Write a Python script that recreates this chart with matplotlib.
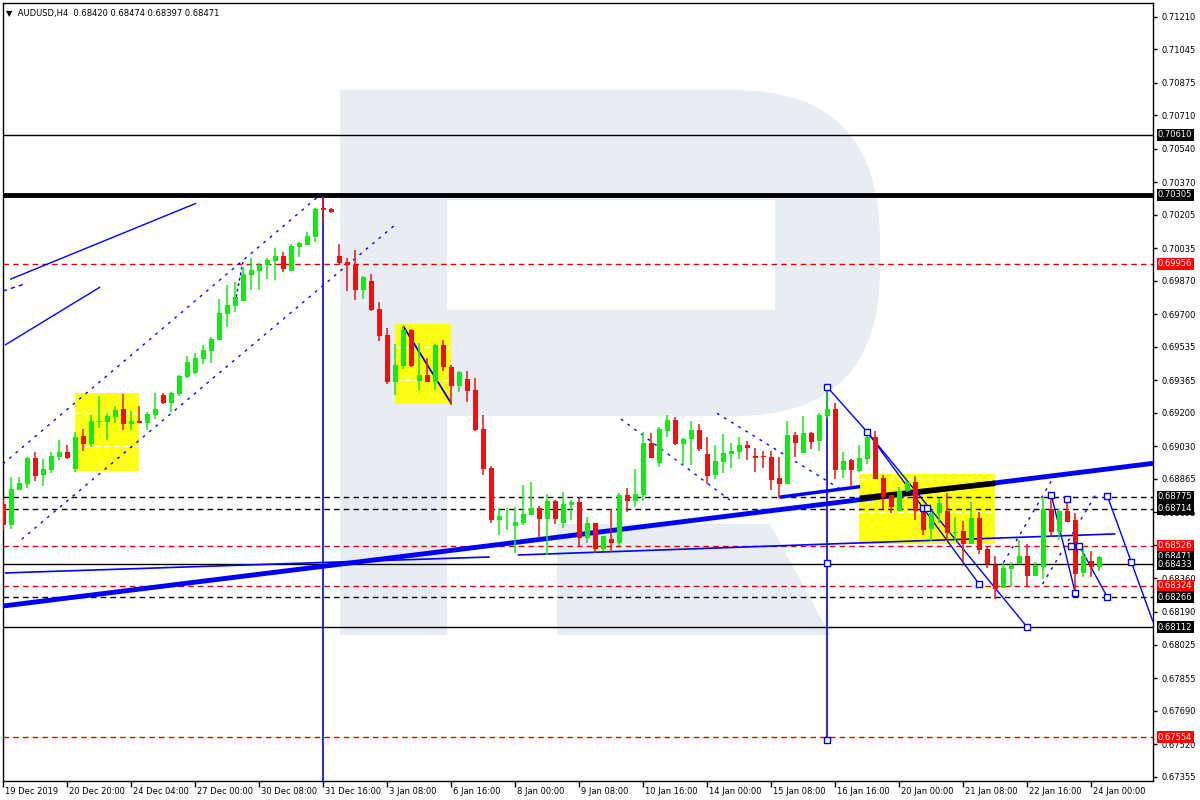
import matplotlib
matplotlib.use("Agg")
import matplotlib.pyplot as plt
import matplotlib.transforms as mtransforms
from matplotlib.patches import Rectangle, Polygon, PathPatch
from matplotlib.path import Path

# ---------------- data (AUDUSD H4 candles) ----------------
opens = [0.68738, 0.68633, 0.68810, 0.68841, 0.68971, 0.68884, 0.68912, 0.68978, 0.69002, 0.68915,
         0.69083, 0.69044, 0.69154, 0.69156, 0.69181, 0.69218, 0.69144, 0.69159, 0.69150, 0.69190,
         0.69289, 0.69252, 0.69296, 0.69384, 0.69404, 0.69474, 0.69514, 0.69571, 0.69703, 0.69744,
         0.69769, 0.69900, 0.69920, 0.69952, 0.69971, 0.69996, 0.69920, 0.70042, 0.70052, 0.70092,
         0.70237, 0.70234, 0.69996, 0.69965, 0.69952, 0.69825, 0.69869, 0.69727, 0.69595, 0.69358,
         0.69439, 0.69621, 0.69363, 0.69392, 0.69358, 0.69544, 0.69433, 0.69338, 0.69372, 0.69316,
         0.69118, 0.68920, 0.68658, 0.68675, 0.68626, 0.68642, 0.68682, 0.68717, 0.68663, 0.68753,
         0.68643, 0.68733, 0.68748, 0.68567, 0.68642, 0.68511, 0.68560, 0.68542, 0.68783, 0.68754,
         0.68785, 0.69047, 0.68947, 0.69110, 0.69164, 0.69044, 0.69065, 0.69114, 0.68991, 0.68886,
         0.68953, 0.68993, 0.69003, 0.69037, 0.68981, 0.68978, 0.68976, 0.68870, 0.68841, 0.69088,
         0.68998, 0.69098, 0.69059, 0.69186, 0.69218, 0.68912, 0.68960, 0.68907, 0.68968, 0.69080,
         0.68871, 0.68783, 0.68704, 0.68805, 0.68849, 0.68704, 0.68612, 0.68694, 0.68704, 0.68591,
         0.68602, 0.68537, 0.68669, 0.68509, 0.68430, 0.68314, 0.68410, 0.68435, 0.68476, 0.68375,
         0.68420, 0.68714, 0.68597, 0.68704, 0.68658, 0.68390, 0.68447, 0.68420]
highs = [0.68762, 0.68876, 0.68876, 0.68978, 0.69002, 0.68966, 0.69002, 0.69063, 0.69039, 0.69105,
         0.69118, 0.69190, 0.69283, 0.69198, 0.69235, 0.69296, 0.69210, 0.69235, 0.69206, 0.69299,
         0.69299, 0.69307, 0.69392, 0.69490, 0.69504, 0.69544, 0.69585, 0.69778, 0.69849, 0.69864,
         0.69940, 0.69986, 0.69961, 0.69986, 0.70037, 0.70016, 0.70057, 0.70067, 0.70118, 0.70239,
         0.70295, 0.70239, 0.70057, 0.69986, 0.70026, 0.69894, 0.69905, 0.69763, 0.69631, 0.69549,
         0.69641, 0.69626, 0.69554, 0.69478, 0.69549, 0.69570, 0.69443, 0.69412, 0.69412, 0.69377,
         0.69190, 0.68930, 0.68717, 0.68717, 0.68723, 0.68834, 0.68850, 0.68728, 0.68788, 0.68760,
         0.68799, 0.68758, 0.68773, 0.68672, 0.68642, 0.68576, 0.68712, 0.68793, 0.68819, 0.68915,
         0.69103, 0.69098, 0.69128, 0.69190, 0.69179, 0.69073, 0.69159, 0.69144, 0.69078, 0.69037,
         0.69093, 0.69047, 0.69078, 0.69057, 0.69022, 0.69007, 0.69007, 0.68976, 0.69159, 0.69103,
         0.69184, 0.69103, 0.69200, 0.69331, 0.69252, 0.69002, 0.68965, 0.69036, 0.69112, 0.69106,
         0.68885, 0.68783, 0.68826, 0.68856, 0.68880, 0.68704, 0.68704, 0.68770, 0.68795, 0.68673,
         0.68652, 0.68750, 0.68699, 0.68526, 0.68476, 0.68440, 0.68445, 0.68557, 0.68537, 0.68445,
         0.68775, 0.68785, 0.68714, 0.68772, 0.68690, 0.68526, 0.68501, 0.68474]
lows = [0.68602, 0.68613, 0.68810, 0.68820, 0.68856, 0.68831, 0.68896, 0.68961, 0.68967, 0.68901,
        0.69008, 0.69029, 0.69125, 0.69063, 0.69150, 0.69114, 0.69114, 0.69150, 0.69114, 0.69170,
        0.69247, 0.69204, 0.69286, 0.69379, 0.69399, 0.69450, 0.69453, 0.69571, 0.69637, 0.69713,
        0.69769, 0.69825, 0.69825, 0.69879, 0.69874, 0.69915, 0.69920, 0.69991, 0.70052, 0.70067,
        0.70168, 0.70214, 0.69950, 0.69820, 0.69774, 0.69779, 0.69718, 0.69566, 0.69348, 0.69292,
        0.69424, 0.69434, 0.69317, 0.69358, 0.69317, 0.69414, 0.69242, 0.69307, 0.69257, 0.69110,
        0.68886, 0.68643, 0.68582, 0.68607, 0.68491, 0.68633, 0.68682, 0.68567, 0.68481, 0.68638,
        0.68618, 0.68657, 0.68526, 0.68541, 0.68491, 0.68501, 0.68496, 0.68526, 0.68697, 0.68724,
        0.68754, 0.68972, 0.68927, 0.69079, 0.69039, 0.68937, 0.68937, 0.69008, 0.68841, 0.68866,
        0.68897, 0.68922, 0.68967, 0.68962, 0.68902, 0.68922, 0.68810, 0.68770, 0.68841, 0.68978,
        0.68998, 0.69018, 0.69008, 0.69174, 0.68866, 0.68871, 0.68826, 0.68902, 0.68942, 0.68866,
        0.68714, 0.68694, 0.68704, 0.68800, 0.68658, 0.68582, 0.68552, 0.68643, 0.68552, 0.68552,
        0.68440, 0.68537, 0.68486, 0.68415, 0.68258, 0.68314, 0.68319, 0.68435, 0.68324, 0.68370,
        0.68359, 0.68572, 0.68557, 0.68648, 0.68273, 0.68369, 0.68369, 0.68397]
closes = [0.68633, 0.68814, 0.68844, 0.68972, 0.68881, 0.68915, 0.68981, 0.69002, 0.68972, 0.69078,
          0.69044, 0.69159, 0.69159, 0.69185, 0.69215, 0.69146, 0.69159, 0.69150, 0.69193, 0.69220,
          0.69252, 0.69299, 0.69387, 0.69458, 0.69479, 0.69519, 0.69575, 0.69707, 0.69747, 0.69788,
          0.69905, 0.69925, 0.69950, 0.69976, 0.69996, 0.69930, 0.70047, 0.70062, 0.70097, 0.70234,
          0.70229, 0.70219, 0.69962, 0.69952, 0.69825, 0.69889, 0.69723, 0.69592, 0.69358, 0.69443,
          0.69621, 0.69439, 0.69392, 0.69358, 0.69544, 0.69434, 0.69338, 0.69407, 0.69312, 0.69115,
          0.68915, 0.68658, 0.68677, 0.68677, 0.68647, 0.68687, 0.68717, 0.68663, 0.68753, 0.68663,
          0.68738, 0.68748, 0.68567, 0.68642, 0.68511, 0.68576, 0.68540, 0.68783, 0.68754, 0.68788,
          0.69047, 0.68972, 0.69118, 0.69164, 0.69044, 0.69068, 0.69114, 0.69018, 0.68881, 0.68956,
          0.68997, 0.69007, 0.69037, 0.69023, 0.68972, 0.68975, 0.68861, 0.68841, 0.69088, 0.69049,
          0.69098, 0.69054, 0.69190, 0.69218, 0.68912, 0.68955, 0.68912, 0.68970, 0.69080, 0.68866,
          0.68772, 0.68724, 0.68805, 0.68851, 0.68704, 0.68607, 0.68694, 0.68741, 0.68593, 0.68597,
          0.68537, 0.68669, 0.68506, 0.68435, 0.68309, 0.68414, 0.68430, 0.68476, 0.68375, 0.68430,
          0.68714, 0.68597, 0.68704, 0.68648, 0.68385, 0.68476, 0.68420, 0.68471]

x_tick_bars = [0, 8, 16, 24, 32, 40, 48, 56, 64, 72, 80, 88, 96, 104, 112, 120, 128, 136]
x_tick_labels = ["19 Dec 2019", "20 Dec 20:00", "24 Dec 04:00", "27 Dec 00:00", "30 Dec 08:00",
                 "31 Dec 16:00", "3 Jan 08:00", "6 Jan 16:00", "8 Jan 00:00", "9 Jan 08:00",
                 "10 Jan 16:00", "14 Jan 00:00", "15 Jan 08:00", "16 Jan 16:00", "20 Jan 00:00",
                 "21 Jan 08:00", "22 Jan 16:00", "24 Jan 00:00"]

y_ticks = [0.71210, 0.71045, 0.70875, 0.70710, 0.70540, 0.70370, 0.70205, 0.70035, 0.69870,
           0.69700, 0.69535, 0.69365, 0.69200, 0.69030, 0.68865, 0.68695, 0.68530, 0.68360,
           0.68190, 0.68025, 0.67855, 0.67690, 0.67520, 0.67355]
hidden_ticks = [0.68530]   # covered by a price tag in the reference

# horizontal levels: price, colour, style, width
levels = [(0.70610, "black", "-", 1.0), (0.70305, "black", "-", 3.5), (0.69956, "#e00000", (0, (4, 3)), 1.0),
          (0.68775, "black", (0, (4, 3)), 1.0), (0.68714, "black", (0, (4, 3)), 1.0),
          (0.68526, "#e00000", (0, (4, 3)), 1.0), (0.68433, "black", "-", 1.0),
          (0.68324, "#e00000", (0, (4, 3)), 1.0), (0.68266, "black", (0, (4, 3)), 1.0),
          (0.68112, "black", "-", 1.0), (0.67554, "#e00000", (0, (4, 3)), 1.0)]

# price labels on the scale: price, background
price_tags = [(0.70610, "black"), (0.70305, "black"), (0.69956, "#ff0000"), (0.68775, "black"),
              (0.68714, "black"), (0.68526, "#ff0000"), (0.68471, "black"), (0.68433, "black"),
              (0.68324, "#ff0000"), (0.68266, "black"), (0.68112, "black"), (0.67554, "#ff0000")]

# yellow analysis zones: bar from, bar to, price low, price high, inner dashed levels
zones = [(8.96, 16.96, 0.68905, 0.69301, (0.69199, 0.69032)),
         (48.96, 55.96, 0.69245, 0.69651, (0.69534, 0.69365)),
         (106.96, 123.96, 0.68535, 0.68890, (0.68863, 0.68696))]

# trend lines: list of (bar, price) points
thick_trend = [(-0.1, 0.68220), (143.7, 0.68944)]
thin_support_1 = [(0.2, 0.68388), (60.8, 0.68469)]
thin_support_2 = [(64.3, 0.68479), (139.0, 0.68586)]
short_support = [(97.0, 0.68772), (107.1, 0.68826)]
black_trend = [(107.1, 0.68767), (124.0, 0.68843)]
left_line_a = [(0.84, 0.69877), (24.1, 0.70263)]
left_line_b = [(0.21, 0.69544), (12.1, 0.69838)]
left_dash = [(-0.05, 0.69818), (2.7, 0.69854)]
channel_up = [(-0.05, 0.68941), (39.3, 0.70295)]
channel_dn = [(2.3, 0.68559), (48.96, 0.70153)]
steep_dot = [(29.1, 0.69788), (29.96, 0.69965)]
zone2_diag = [(49.96, 0.69641), (55.96, 0.69250)]
dot_desc_1 = [(77.2, 0.69169), (90.8, 0.68758)]
dot_desc_2 = [(89.2, 0.69198), (105.2, 0.68799)]
zig_1 = [(103, 0.69330), (108, 0.69102), (121.96, 0.68332)]
zig_2 = [(108, 0.69102), (128, 0.68112)]
zig_3 = [(131, 0.68782), (134, 0.68285)]
zig_4 = [(134.5, 0.68525), (138, 0.68265)]
zig_5 = [(138, 0.68778), (141, 0.68442), (143.7, 0.68140)]
fc_dot_1 = [(125, 0.68440), (131.75, 0.68907)]
fc_dot_2 = [(129.9, 0.68332), (136.75, 0.68800)]
markers = [(103, 0.69330), (103, 0.68441), (103, 0.67541), (108, 0.69102), (115, 0.68719),
           (115.5, 0.68719), (121.96, 0.68332), (128, 0.68112), (131, 0.68782), (133, 0.68762),
           (133.5, 0.68525), (134.5, 0.68525), (134, 0.68285), (138, 0.68265), (138, 0.68778),
           (141, 0.68442)]
vert_bar103 = (103, 0.67541, 0.69330)
vert_bar40 = (40, 0.673353, 0.70300)

# ---------------- figure ----------------
W, H = 1200, 800
fig = plt.figure(figsize=(W / 100, H / 100), dpi=100)
L, R, T, B = 2.5, 1153, 3, 780.5
ax = fig.add_axes([L / W, 1 - B / H, (R - L) / W, (B - T) / H])
ax.set_xlim(-0.1, 143.7)
ax.set_ylim(0.673353, 0.712788)

# watermark "R" in axes fraction (decorative)
def px(x, y):
    return ((x - L) / (R - L), (B - y) / (B - T))

wm = "#e8ecf3"
verts = [px(340, 635), px(340, 90), px(735, 90), px(880, 90), px(880, 240), px(880, 270),
         px(880, 416), px(735, 416), px(447, 416), px(447, 635), px(340, 635)]
codes = [Path.MOVETO, Path.LINETO, Path.LINETO, Path.CURVE3, Path.LINETO, Path.LINETO,
         Path.CURVE3, Path.LINETO, Path.LINETO, Path.LINETO, Path.CLOSEPOLY]
ax.add_patch(PathPatch(Path(verts, codes), fc=wm, ec="none", transform=ax.transAxes, zorder=0))
ax.add_patch(Polygon([px(447, 200), px(775, 200), px(775, 310), px(447, 310)], closed=True,
                     fc="white", ec="none", transform=ax.transAxes, zorder=0.1))
ax.add_patch(Polygon([px(557, 524), px(770, 524), px(830, 635), px(557, 635)], closed=True,
                     fc=wm, ec="none", transform=ax.transAxes, zorder=0))

# yellow zones
for b0, b1, p0, p1, inner in zones:
    ax.add_patch(Rectangle((b0, p0), b1 - b0, p1 - p0, fc="#ffff00", ec="none", alpha=0.92, zorder=1))
    for lv in inner:
        ax.plot([b0, b1], [lv, lv], color="white", lw=1, ls=(0, (4, 3)), zorder=1.5)

# horizontal levels
for p, c, ls, lw in levels:
    ax.axhline(p, color=c, ls=ls, lw=lw, zorder=2)

blue = "#0000ff"
def seg(pts, lw=1.0, ls="-", color=blue, z=3):
    ax.plot([q[0] for q in pts], [q[1] for q in pts], color=color, lw=lw, ls=ls, zorder=z,
            solid_capstyle="butt")

seg(thick_trend, lw=3.5)
seg(thin_support_1, lw=1.2)
seg(thin_support_2, lw=1.2)
seg(short_support, lw=2.5)
seg(black_trend, lw=4, color="black")
seg(left_line_a, lw=1)
seg(left_line_b, lw=1)
seg(left_dash, lw=1, ls=(0, (3, 3)))
seg(channel_up, lw=1, ls=(0, (2, 4)))
seg(channel_dn, lw=1, ls=(0, (2, 4)))
seg(steep_dot, lw=1, ls=(0, (2, 2)))
seg(zone2_diag, lw=1.3)
seg(dot_desc_1, lw=1, ls=(0, (2, 4)))
seg(dot_desc_2, lw=1, ls=(0, (2, 4)))
for z in (zig_1, zig_2, zig_3, zig_4, zig_5):
    seg(z, lw=1)
seg(fc_dot_1, lw=1, ls=(0, (2, 4)))
seg(fc_dot_2, lw=1, ls=(0, (2, 4)))
ax.plot([vert_bar103[0]] * 2, [vert_bar103[1], vert_bar103[2]], color=blue, lw=1.2, zorder=3)
ax.plot([vert_bar40[0]] * 2, [vert_bar40[1], vert_bar40[2]], color=blue, lw=1.2, zorder=3)

# candles
green, red = "#19e619", "#e81414"
for i, (o, h, l, c) in enumerate(zip(opens, highs, lows, closes)):
    col = green if c >= o else red
    ax.vlines(i, l, h, color=col, lw=1.1, zorder=4)
    lo, hi = min(o, c), max(o, c)
    ax.bar(i, max(hi - lo, 0.00004), bottom=lo, width=0.62, color=col, zorder=4.5, linewidth=0)

ax.scatter([m[0] for m in markers], [m[1] for m in markers], marker="s", s=22, facecolors="white",
           edgecolors=blue, linewidths=1, zorder=6)

# axes styling
for sp in ax.spines.values():
    sp.set_color("black")
    sp.set_linewidth(1)
ax.yaxis.tick_right()
ax.set_yticks(y_ticks)
ax.set_yticklabels(["" if v in hidden_ticks else f"{v:.5f}" for v in y_ticks], fontsize=6)
ax.tick_params(axis="y", direction="out", length=3, width=1, pad=3, colors="black")
ax.set_xticks(x_tick_bars)
ax.set_xticklabels([])
ax.tick_params(axis="x", direction="out", length=4, width=1, colors="black")

xtrans = mtransforms.blended_transform_factory(ax.transData, ax.transAxes)
xoff = mtransforms.offset_copy(xtrans, fig=fig, x=2, y=-6, units="dots")
for b, lab in zip(x_tick_bars, x_tick_labels):
    ax.text(b, 0, lab, transform=xoff, ha="left", va="top", fontsize=6, clip_on=False)

ytrans = mtransforms.blended_transform_factory(ax.transAxes, ax.transData)
yoff = mtransforms.offset_copy(ytrans, fig=fig, x=5, y=0, units="dots")
for p, bg in price_tags:
    ax.text(1.0, p, f"{p:.5f}", transform=yoff, ha="left", va="center", fontsize=6,
            color="white", clip_on=False, zorder=10,
            bbox=dict(boxstyle="square,pad=0.18", fc=bg, ec="none"))

ax.text(0.003, 0.992, "\u25BC  AUDUSD,H4  0.68420 0.68474 0.68397 0.68471", transform=ax.transAxes,
        ha="left", va="top", fontsize=6, zorder=10)

fig.savefig("out.png", dpi=100, facecolor="white")
